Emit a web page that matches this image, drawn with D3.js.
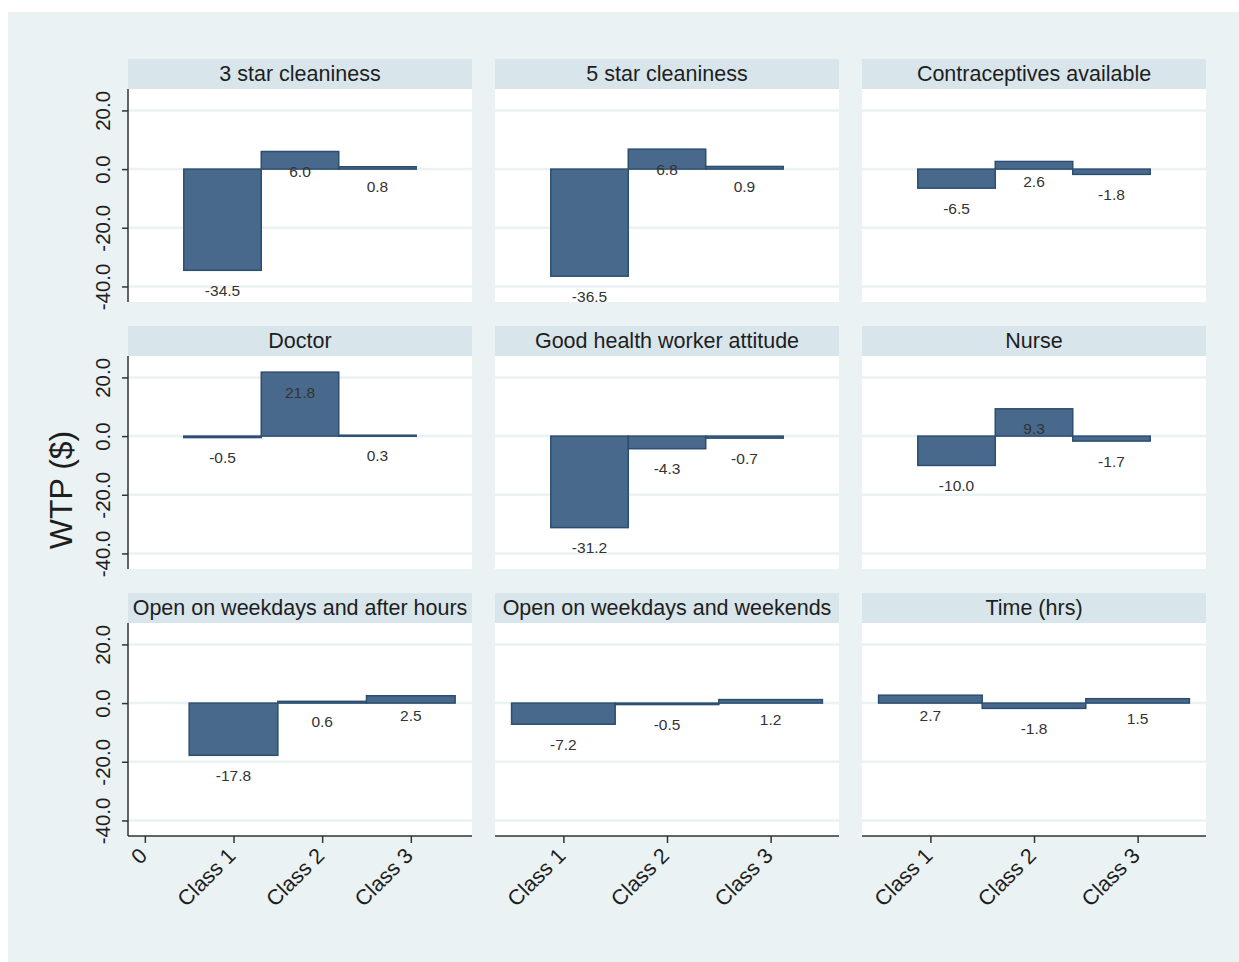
<!DOCTYPE html>
<html><head><meta charset="utf-8">
<script src="https://cdn.jsdelivr.net/npm/d3@7"></script>
<style>html,body{margin:0;padding:0;background:#fff}svg{display:block}</style>
</head><body><svg id="c" width="1239" height="962"></svg>
<script>
const panelTitles = ["3 star cleaniness","5 star cleaniness","Contraceptives available","Doctor","Good health worker attitude","Nurse","Open on weekdays and after hours","Open on weekdays and weekends","Time (hrs)"];
const classes = ["Class 1","Class 2","Class 3"];
const wtp3Star = [-34.5, 6.0, 0.8];
const wtp5Star = [-36.5, 6.8, 0.9];
const wtpContraceptives = [-6.5, 2.6, -1.8];
const wtpDoctor = [-0.5, 21.8, 0.3];
const wtpAttitude = [-31.2, -4.3, -0.7];
const wtpNurse = [-10.0, 9.3, -1.7];
const wtpAfterHours = [-17.8, 0.6, 2.5];
const wtpWeekends = [-7.2, -0.5, 1.2];
const wtpTime = [2.7, -1.8, 1.5];
const yTicks = [-40, -20, 0, 20];
const seriesList = [wtp3Star, wtp5Star, wtpContraceptives, wtpDoctor, wtpAttitude, wtpNurse, wtpAfterHours, wtpWeekends, wtpTime];

const svg = d3.select("#c");
const BG = "#eaf2f3", STRIP = "#d8e5eb", BAR = "#48698b", BAR_STROKE = "#2c4e71";
svg.append("rect").attr("x",8).attr("y",12).attr("width",1231).attr("height",950).attr("fill",BG);

const colX = [128, 495, 862];
const panelW = 344;
const rowTop = [59, 326, 593];
const stripH = 30;
const plotH = 213;
const font = "'Liberation Sans', Arial, sans-serif";

seriesList.forEach((vals, i) => {
  const r = Math.floor(i/3), c = i%3;
  const x0 = colX[c], top = rowTop[r], pTop = top + stripH, pBot = pTop + plotH;
  const g = svg.append("g");
  g.append("rect").attr("x", x0).attr("y", top).attr("width", panelW).attr("height", stripH).attr("fill", STRIP);
  g.append("text").attr("x", x0 + panelW/2).attr("y", top + stripH/2 + 7).attr("text-anchor","middle")
    .attr("font-family", font).attr("font-size", 21.5).attr("fill","#1e1e1e").text(panelTitles[i]);
  g.append("rect").attr("x", x0).attr("y", pTop).attr("width", panelW).attr("height", plotH).attr("fill","#fff");
  let xd;
  if (r < 2) xd = [-0.22, 4.22];
  else if (c === 0) xd = [-0.19, 3.69];
  else xd = [0.34, 3.66];
  const x = d3.scaleLinear().domain(xd).range([x0, x0 + panelW]);
  const y = d3.scaleLinear().domain([-45.3, 27.3]).range([pBot, pTop]);
  g.selectAll(".grid").data(yTicks).enter().append("line")
    .attr("x1", x0).attr("x2", x0 + panelW).attr("y1", d => y(d)).attr("y2", d => y(d))
    .attr("stroke", BG).attr("stroke-width", 2.5);
  const bars = vals.map((v, k) => ({v, k: k + 1}));
  g.selectAll(".bar").data(bars).enter().append("rect")
    .attr("x", d => x(d.k - 0.5)).attr("width", d => x(d.k + 0.5) - x(d.k - 0.5))
    .attr("y", d => Math.min(y(d.v), y(0))).attr("height", d => Math.max(1, Math.abs(y(d.v) - y(0))))
    .attr("fill", BAR).attr("stroke", BAR_STROKE).attr("stroke-width", 1.5);
  g.selectAll(".lbl").data(bars).enter().append("text")
    .attr("x", d => x(d.k)).attr("y", d => y(d.v) + 25.5).attr("text-anchor","middle")
    .attr("font-family", font).attr("font-size", 15.5).attr("fill","#333")
    .text(d => d3.format(".1f")(d.v).replace("−","-"));
  if (c === 0) {
    const ya = g.append("g").attr("transform", `translate(${x0},0)`)
      .call(d3.axisLeft(y).tickValues(yTicks).tickSize(6).tickPadding(4).tickFormat(d => d3.format(".1f")(d).replace("−","-")));
    ya.select(".domain").attr("d", `M0,${pTop}V${pBot}`).attr("stroke","#333").attr("stroke-width",1.5);
    ya.selectAll(".tick line").attr("stroke","#333").attr("stroke-width",1.5);
    ya.selectAll(".tick text").attr("font-family", font).attr("font-size", 20.5).attr("fill","#1e1e1e")
      .attr("transform","rotate(-90)").attr("x", 0).attr("y", -18).attr("dy","0").attr("text-anchor","middle");
  }
  if (r === 2) {
    const tv = c === 0 ? [0,1,2,3] : [1,2,3];
    const xa = g.append("g").attr("transform", `translate(0,${pBot})`)
      .call(d3.axisBottom(x).tickValues(tv).tickSize(7).tickFormat(d => d === 0 ? "0" : classes[d-1]));
    xa.select(".domain").attr("d", `M${x0},0H${x0+panelW}`).attr("stroke","#333").attr("stroke-width",1.5);
    xa.selectAll(".tick line").attr("stroke","#333").attr("stroke-width",1.5);
    xa.selectAll(".tick text").attr("font-family", font).attr("font-size", 21.5).attr("fill","#1e1e1e")
      .attr("text-anchor","end").attr("y",0).attr("dy","0")
      .attr("transform","translate(3,21) rotate(-45)");
  }
});

svg.append("text").attr("transform","translate(72,490) rotate(-90)").attr("text-anchor","middle")
  .attr("font-family", font).attr("font-size", 32).attr("fill","#1e1e1e").text("WTP ($)");
</script></body></html>
